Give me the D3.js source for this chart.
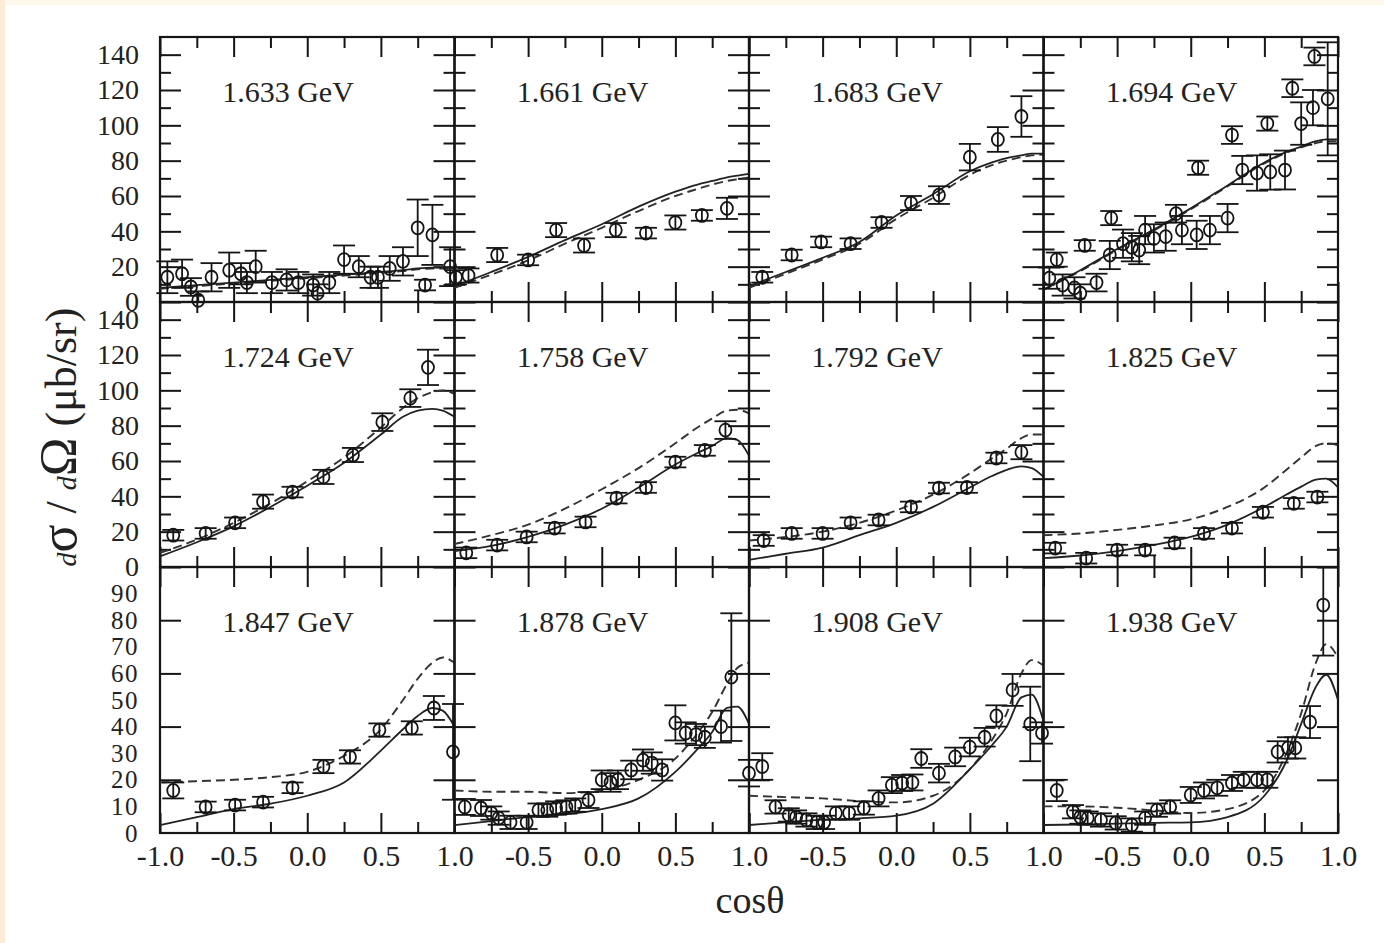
<!DOCTYPE html>
<html><head><meta charset="utf-8">
<script src="https://cdn.jsdelivr.net/npm/d3@7"></script>
<style>body{margin:0;background:#fff;} svg{display:block;}</style>
</head><body>
<svg id="c" width="1384" height="943"></svg>
<script>
// ---------------- data ----------------
const energies = ["1.633 GeV","1.661 GeV","1.683 GeV","1.694 GeV","1.724 GeV","1.758 GeV","1.792 GeV","1.825 GeV","1.847 GeV","1.878 GeV","1.908 GeV","1.938 GeV"];
const xMajorTicks = [-1, -0.5, 0, 0.5, 1];
const xMinorTicks = [-0.75, -0.25, 0.25, 0.75];
const xTickLabels = ["-1.0","-0.5","0.0","0.5","1.0"];
const yTicksUpper = [0,20,40,60,80,100,120,140];
const yMinorUpper = [10,30,50,70,90,110,130];
const yTicksLower = [0,10,20,30,40,50,60,70,80,90];
const yMajorLower = [20,40,60,80];
const yMaxUpper = 150, yMaxLower = 100;
const xTitle = "cosθ";

// model curve grid (cosθ)
const curveGrid = [-1, -0.75, -0.5, -0.25, 0, 0.25, 0.5, 0.65, 0.75, 0.85, 0.92, 1.0];

// 1.633 GeV
const cos1633 = [-0.95,-0.85,-0.79,-0.74,-0.65,-0.53,-0.45,-0.41,-0.35,-0.24,-0.14,-0.06,0.04,0.07,0.15,0.25,0.35,0.43,0.48,0.56,0.65,0.75,0.80,0.85,0.97];
const val1633 = [14,16,8.5,1,14,18,16,11,20,11,12.5,11,9.6,5,11,24,20,14,14,19,23,42,9.6,38,20];
const err1633 = [9,8,5,5,8,10,6,6,9,6,6,6,6,5,6,8,6,6,6,7,8,16,3,17,11];
const solid1633 = [8,9.5,11,12.5,14,15.5,17,18,19,19.5,19.5,19];
const dash1633  = [7.5,9,10.5,12,13.5,15,16.5,17.5,18.5,19,19,18.5];
// 1.661 GeV
const cos1661 = [-0.99,-0.905,-0.71,-0.50,-0.31,-0.12,0.095,0.30,0.50,0.68,0.85];
const val1661 = [14,15,26.6,23.8,40.7,32,40.7,39,45,49,53];
const err1661 = [4,4,4,3,4,4,4,3,4,3,6];
const solid1661 = [9,17,25.5,35,44,54,62.5,66.5,68.5,70.5,71.5,72.5];
const dash1661  = [8,15.5,23.5,33,42,51.5,60,64,66.5,68.5,69.5,70.5];
// 1.683 GeV
const cos1683 = [-0.91,-0.71,-0.51,-0.31,-0.10,0.10,0.29,0.50,0.69,0.85];
const val1683 = [14,26.6,34,33,45,56,60.5,82,92,105];
const err1683 = [3,3,3,3,3,4,5,7.5,7,11.5];
const solid1683 = [9,17,25,34,49,61,74,79,81.5,83,84,84];
const dash1683  = [8,16,24,33,47,59,72,77.5,80,82,83,83.5];
// 1.694 GeV
const cos1694 = [-0.96,-0.91,-0.87,-0.79,-0.75,-0.72,-0.64,-0.54,-0.55,-0.46,-0.40,-0.35,-0.31,-0.25,-0.17,-0.10,-0.06,0.04,0.13,0.05,0.25,0.28,0.35,0.45,0.54,0.64,0.52,0.69,0.75,0.83,0.84,0.93];
const val1694 = [13.5,24,9.6,8,5,32,11,47.5,26.6,33,31,29.4,40.7,36,37,50,40.7,38,40.7,76,47.5,94.5,74.7,73,73.6,74.7,101,121,101,110,139,115];
const err1694 = [6,4,6,6,5,3,5,4,8,8,8,8,8,8,8,5,8,8,8,4,8,5,8,10,10,11,4,5,12,10,5,32];
const solid1694 = [7,18,30,41,53,66,79,85,88,91,92,92];
const dash1694  = [7,17.5,29.5,40.5,52.5,65.5,78.5,84.5,87.5,90,91,91];
// 1.724 GeV
const cos1724 = [-0.91,-0.69,-0.49,-0.30,-0.10,0.11,0.31,0.51,0.70,0.82];
const val1724 = [18,19,25,37,42.4,51,63.4,82,95.6,113];
const err1724 = [3,3,3,4,3,4,4,5,5,10];
const solid1724 = [6,14,23,34,46,59,75,85,88.5,89.5,88.5,85];
const dash1724  = [8,15.5,25,36,48.5,62,79,90,95.5,99,100,98];
// 1.758 GeV
const cos1758 = [-0.92,-0.71,-0.51,-0.32,-0.11,0.10,0.30,0.50,0.70,0.84];
const val1758 = [8,12.4,17,22,25.5,39,45,59.4,66,77.5];
const err1758 = [3,3,3,3,3,3,3,3,3,5];
const solid1758 = [9,12,17,24,33,45,58,64.5,68.5,73,72,63];
const dash1758  = [13,18,24,33,44,56,70,79,84,88.5,89,87];
// 1.792 GeV
const cos1792 = [-0.90,-0.71,-0.50,-0.31,-0.12,0.10,0.29,0.48,0.68,0.85];
const val1792 = [15,19,19,25,26.6,34,44.7,45,61.7,65];
const err1792 = [3,3,3,3,3,3,3,3,3,4];
const solid1792 = [4,7.5,11,18,25,34,45,51.5,55,57,56,51];
const dash1792  = [15,17,20,25,32,41,53,61.5,67,73,75,75];
// 1.825 GeV
const cos1825 = [-0.92,-0.71,-0.50,-0.31,-0.11,0.09,0.28,0.49,0.70,0.86];
const val1825 = [10.7,5,9.6,9.6,13.6,19,22,31,36,39.6];
const err1825 = [3,3,3,3,3,3,3,3,3,3];
const solid1825 = [5,6.5,9,12.5,17,24,34,41,45.5,49.5,50,45];
const dash1825  = [18,19,21,23.5,27,34,45,55,62,68.5,70,69];
// 1.847 GeV
const cos1847 = [-0.91,-0.69,-0.49,-0.30,-0.10,0.11,0.29,0.49,0.71,0.86,0.99];
const val1847 = [16,9.8,10.5,11.6,17,25,28.6,38.7,39.5,47,30.5];
const err1847 = [3,2,2,2,2,2.5,2.5,2.5,2.5,4.5,18];
const solid1847 = [3,6,9,11,14,19,31,39,44,47,46,40];
const dash1847  = [19,19.5,20,21,23,29,39,50,58,64,66,64];
// 1.878 GeV
const cos1878 = [-0.93,-0.82,-0.75,-0.70,-0.62,-0.51,-0.43,-0.37,-0.31,-0.24,-0.18,-0.09,0.0,0.06,0.11,0.20,0.28,0.34,0.41,0.50,0.57,0.64,0.70,0.81,0.88];
const val1878 = [9.8,9.4,7.5,5.6,4,4,8.6,8.6,9.4,9.8,10.5,12.4,20,19,20,23.7,27.4,26.3,23.7,41.4,37.6,37,36,40,58.6];
const err1878 = [3,3,2.5,2.5,2.5,2.5,2.5,2.5,2.5,2.5,2.5,3,3.5,3.5,3.5,3.5,4,4,4,6.6,4,4,4,6,24];
const solid1878 = [3,4.5,6,7,9,13,23,31.5,38,47,47.5,41];
const dash1878  = [16,15.5,15.5,15,16,20,28,37.5,45.5,56,62,64];
// 1.908 GeV
const cos1908 = [-1.0,-0.91,-0.82,-0.73,-0.68,-0.61,-0.54,-0.49,-0.41,-0.32,-0.22,-0.12,-0.03,0.04,0.11,0.17,0.29,0.40,0.50,0.60,0.68,0.79,0.91,0.99];
const val1908 = [22.5,25,9.8,6.8,6,4.9,4,4,7.5,7.5,9.4,13,18,18.8,19,28,22.5,28.6,32.3,36,44,53.8,41,37.6];
const err1908 = [5,5,2.5,2.5,2.5,2.5,2.5,2.5,2.5,2.5,2.5,3,3,3,3,3.5,3.5,3.5,3.5,3.5,4,6,14,4];
const solid1908 = [3,4,5,5.5,6.5,11,24,33,40,51,52,42];
const dash1908  = [14,13.5,13,12,11.5,14,24,35,45,60,65,63];
// 1.938 GeV
const cos1938 = [-0.91,-0.80,-0.75,-0.70,-0.61,-0.51,-0.40,-0.31,-0.23,-0.14,0.0,0.09,0.18,0.28,0.36,0.45,0.52,0.59,0.66,0.71,0.81,0.90];
const val1938 = [16,8,6,5.6,4.9,3.8,3,5.6,8.6,9.8,14.3,16,17,18.8,20,20,20,30.5,32,32,41.7,85.7];
const err1938 = [4,2.5,2.5,2.5,2.5,2.5,2.5,2.5,2.5,2.5,3,3,3,3,3,3,3,4,4,4,6,19];
const solid1938 = [3,3.2,3.5,3.8,4,6,14,27,41,55,59.5,50];
const dash1938  = [10,10,9.5,8.5,7.5,9,16,30,45,64,71,66];

const panels = [
  [cos1633,val1633,err1633,solid1633,dash1633],
  [cos1661,val1661,err1661,solid1661,dash1661],
  [cos1683,val1683,err1683,solid1683,dash1683],
  [cos1694,val1694,err1694,solid1694,dash1694],
  [cos1724,val1724,err1724,solid1724,dash1724],
  [cos1758,val1758,err1758,solid1758,dash1758],
  [cos1792,val1792,err1792,solid1792,dash1792],
  [cos1825,val1825,err1825,solid1825,dash1825],
  [cos1847,val1847,err1847,solid1847,dash1847],
  [cos1878,val1878,err1878,solid1878,dash1878],
  [cos1908,val1908,err1908,solid1908,dash1908],
  [cos1938,val1938,err1938,solid1938,dash1938]
];

// ---------------- layout ----------------
const W = 1384, H = 943;
const gridLeft = 160, gridRight = 1338;
const rowEdges = [37, 302, 567, 833];
const colW = (gridRight - gridLeft) / 4;
const FONT = "'Liberation Serif','Times New Roman',serif";
const INK = "#151515";

const svg = d3.select("#c");
svg.append("rect").attr("width", W).attr("height", H).attr("fill", "#fff");
svg.append("rect").attr("x",0).attr("y",0).attr("width",W).attr("height",5).attr("fill","#fdf7ec");
svg.append("rect").attr("x",0).attr("y",0).attr("width",5).attr("height",H).attr("fill","#fcecd6");

panels.forEach((p, i) => {
  const row = Math.floor(i / 4), col = i % 4;
  const L = gridLeft + col * colW, R = L + colW;
  const T = rowEdges[row], B = rowEdges[row + 1];
  const ymax = row < 2 ? yMaxUpper : yMaxLower;
  const x = d3.scaleLinear().domain([-1, 1]).range([L, R]);
  const y = d3.scaleLinear().domain([0, ymax]).range([B, T]);
  const g = svg.append("g");

  const tickAxis = (gen, tr) => {
    const a = g.append("g").attr("transform", tr).call(gen);
    a.select(".domain").remove();
    a.selectAll("line").attr("stroke", INK).attr("stroke-width", 2);
    a.selectAll("text").remove();
  };
  // x ticks (inward, both sides)
  tickAxis(d3.axisBottom(x).tickValues(xMajorTicks).tickSize(-20).tickFormat(""), `translate(0,${B})`);
  tickAxis(d3.axisBottom(x).tickValues(xMinorTicks).tickSize(-11).tickFormat(""), `translate(0,${B})`);
  tickAxis(d3.axisTop(x).tickValues(xMajorTicks).tickSize(-20).tickFormat(""), `translate(0,${T})`);
  tickAxis(d3.axisTop(x).tickValues(xMinorTicks).tickSize(-11).tickFormat(""), `translate(0,${T})`);
  // y ticks
  const yMaj = row < 2 ? yTicksUpper : yMajorLower;
  tickAxis(d3.axisLeft(y).tickValues(yMaj).tickSize(-21).tickFormat(""), `translate(${L},0)`);
  tickAxis(d3.axisRight(y).tickValues(yMaj).tickSize(-21).tickFormat(""), `translate(${R},0)`);
  if (row < 2) {
    tickAxis(d3.axisLeft(y).tickValues(yMinorUpper).tickSize(-11).tickFormat(""), `translate(${L},0)`);
    tickAxis(d3.axisRight(y).tickValues(yMinorUpper).tickSize(-11).tickFormat(""), `translate(${R},0)`);
  }
  // frame
  g.append("rect").attr("x", L).attr("y", T).attr("width", R - L).attr("height", B - T)
    .attr("fill", "none").attr("stroke", INK).attr("stroke-width", 2.2);

  // y labels (left column)
  if (col === 0) {
    const lab = g.append("g").attr("transform", `translate(${L},0)`)
      .call(d3.axisLeft(y).tickValues(row < 2 ? yTicksUpper : yTicksLower).tickSize(0).tickPadding(21).tickFormat(d3.format("d")));
    lab.select(".domain").remove();
    lab.selectAll("text").attr("font-family", FONT).attr("font-size", row < 2 ? 28 : 25)
      .attr("letter-spacing", row < 2 ? 0 : 1.5).attr("fill", "#222");
  }
  // x labels (bottom row)
  if (row === 2) {
    const vals = col === 0 ? xMajorTicks : xMajorTicks.slice(1);
    const lab = g.append("g").attr("transform", `translate(0,${B})`)
      .call(d3.axisBottom(x).tickValues(vals).tickSize(0).tickPadding(12)
        .tickFormat(d => xTickLabels[xMajorTicks.indexOf(d)]));
    lab.select(".domain").remove();
    lab.selectAll("text").attr("font-family", FONT).attr("font-size", 30).attr("fill", "#222");
  }

  // title
  g.append("text").attr("x", L + 128).attr("y", T + 65).attr("text-anchor", "middle")
    .attr("font-family", FONT).attr("font-size", 30).attr("fill", "#222").text(energies[i]);

  // model curves
  const line = d3.line().x(d => x(d[0])).y(d => y(d[1])).curve(d3.curveMonotoneX);
  const [cs, vs, es, sol, dsh] = p;
  g.append("path").attr("d", line(curveGrid.map((c, k) => [c, dsh[k]])))
    .attr("fill", "none").attr("stroke", "#333").attr("stroke-width", 1.9).attr("stroke-dasharray", "9,5");
  g.append("path").attr("d", line(curveGrid.map((c, k) => [c, sol[k]])))
    .attr("fill", "none").attr("stroke", "#222").attr("stroke-width", 1.8);

  // data points with error bars
  const yc = v => y(Math.max(0, Math.min(ymax, v)));
  const pts = cs.map((c, k) => ({ c, v: vs[k], e: es[k] }));
  const pg = g.append("g").attr("stroke", INK).attr("stroke-width", 1.8).attr("fill", "none");
  pts.forEach(d => {
    const px = x(d.c), lo = yc(d.v - d.e), hi = yc(d.v + d.e);
    pg.append("line").attr("x1", px).attr("x2", px).attr("y1", lo).attr("y2", hi);
    pg.append("line").attr("x1", px - 11).attr("x2", px + 11).attr("y1", lo).attr("y2", lo);
    pg.append("line").attr("x1", px - 11).attr("x2", px + 11).attr("y1", hi).attr("y2", hi);
    pg.append("ellipse").attr("cx", px).attr("cy", y(d.v)).attr("rx", 6).attr("ry", 6.5);
  });
});

// axis titles
svg.append("text").attr("x", 750).attr("y", 913).attr("text-anchor", "middle")
  .attr("font-family", FONT).attr("font-size", 38).attr("fill", "#222").text(xTitle);

const yt = svg.append("text").attr("transform", "translate(76,437) rotate(-90)")
  .attr("text-anchor", "middle").attr("font-family", FONT).attr("font-size", 44).attr("fill", "#222");
yt.append("tspan").attr("font-style", "italic").attr("font-size", 28).text("d");
yt.append("tspan").attr("font-size", 52).text("σ");
yt.append("tspan").text(" / ");
yt.append("tspan").attr("font-style", "italic").attr("font-size", 28).text("d");
yt.append("tspan").attr("font-size", 52).text("Ω");
yt.append("tspan").text(" (μb/sr)");
</script>
</body></html>
